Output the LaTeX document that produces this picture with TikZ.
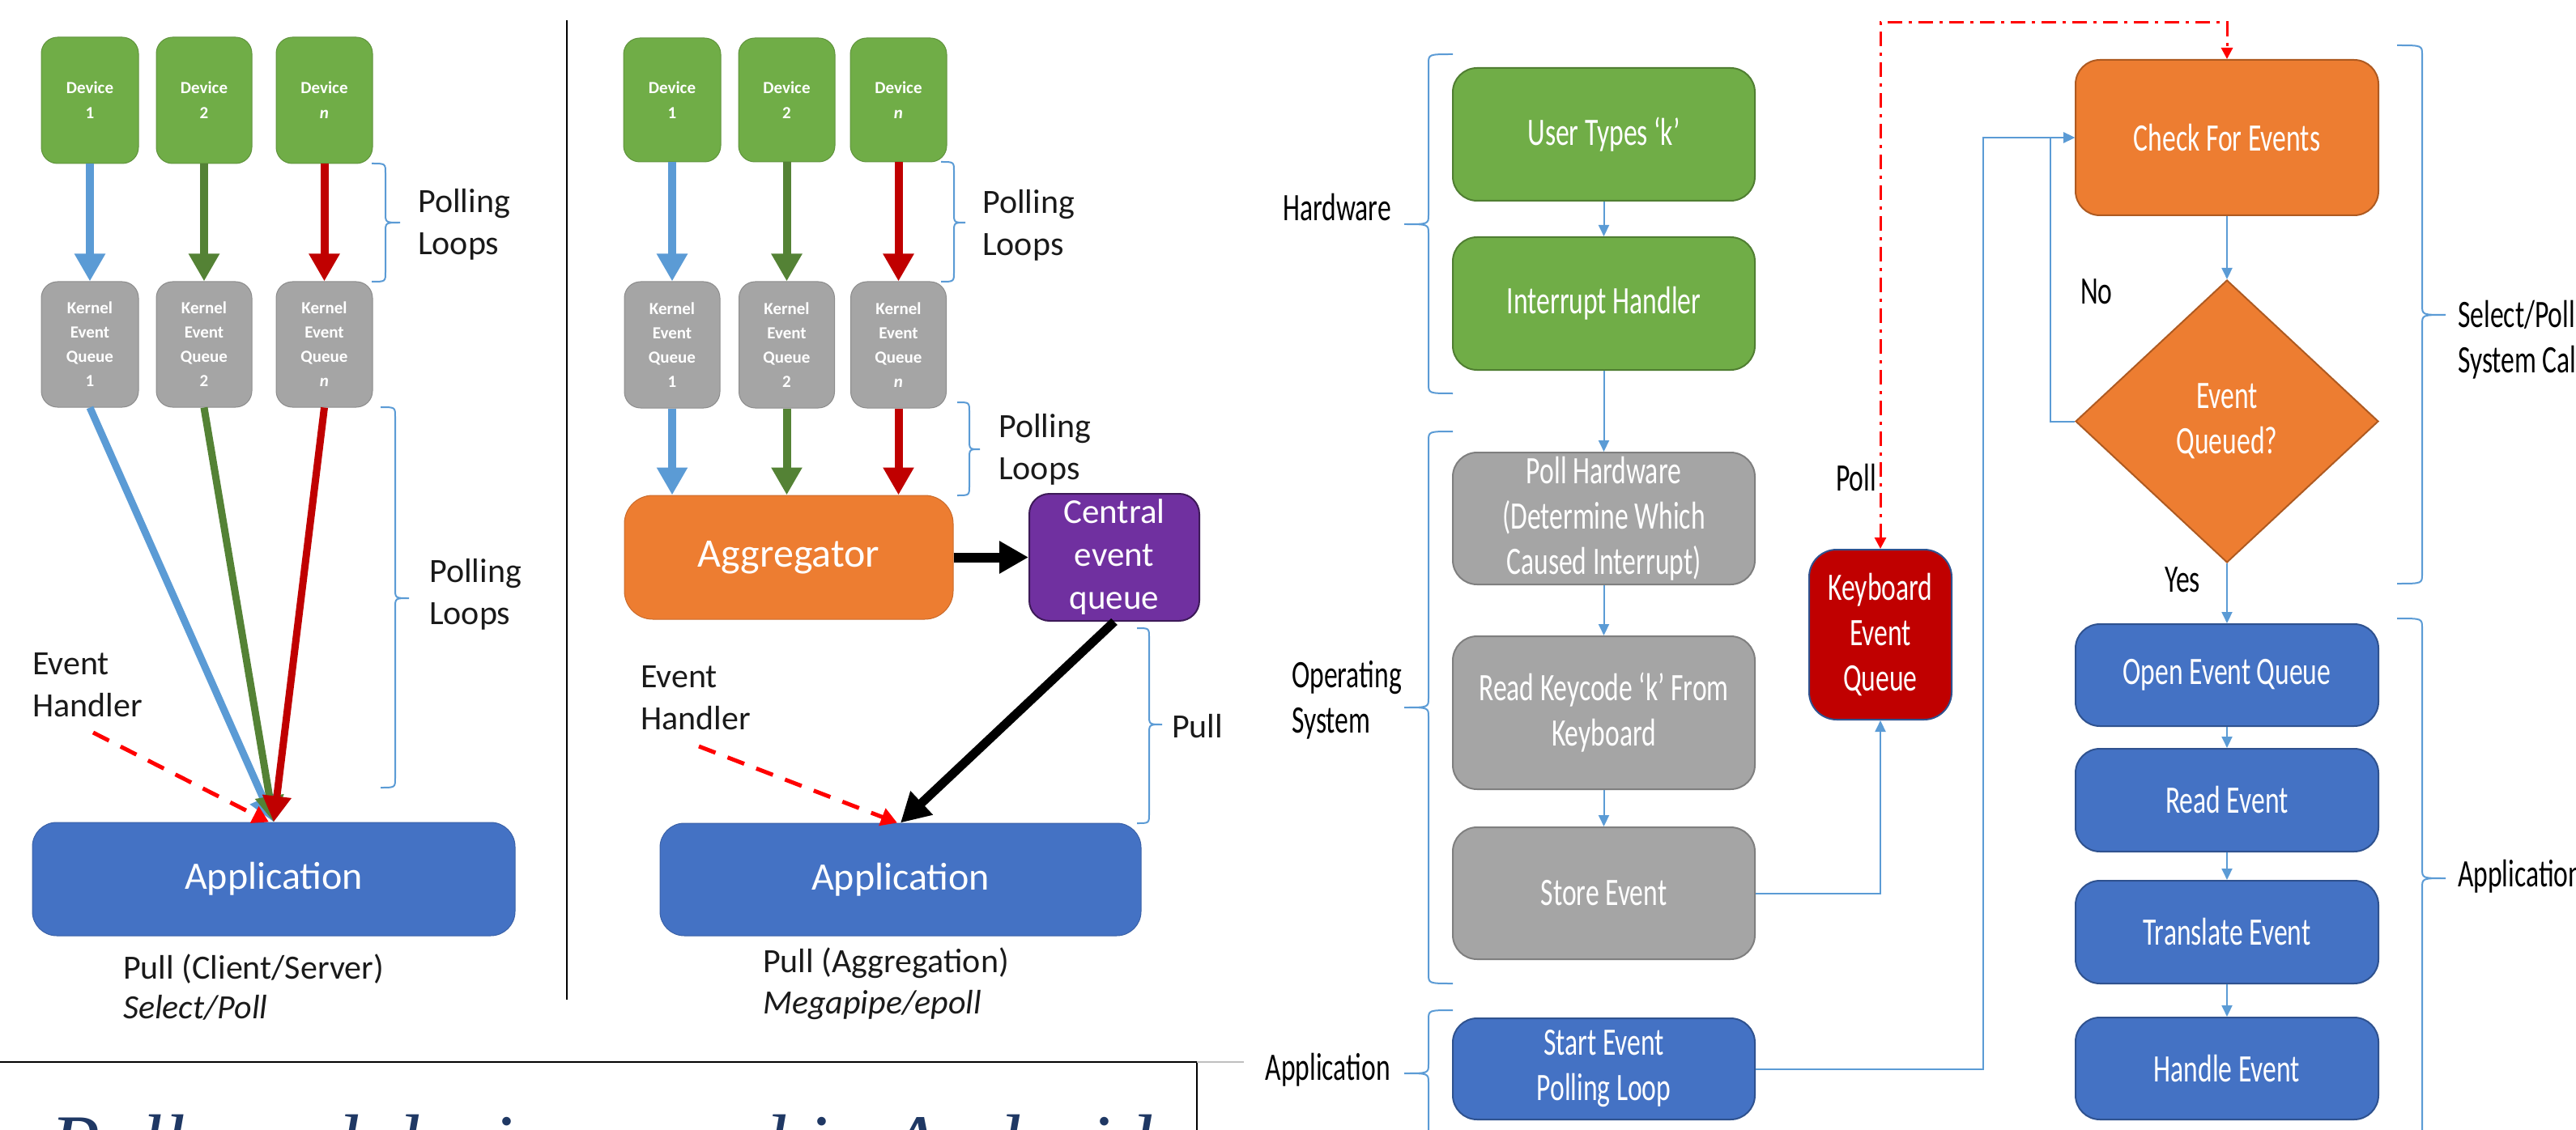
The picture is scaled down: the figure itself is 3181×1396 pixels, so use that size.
\documentclass[tikz,border=0pt]{standalone}
\usepackage{fontspec}
\setmainfont{Carlito}
\newfontfamily\condf[FakeStretch=0.7]{Carlito}
\newfontfamily\titlef{Liberation Serif}
\usetikzlibrary{arrows.meta,shapes.geometric,calc}
\definecolor{cgreen}{HTML}{70AD47}
\definecolor{cgreenb}{HTML}{507E32}
\definecolor{cgray}{HTML}{A5A5A5}
\definecolor{cgrayb}{HTML}{7F7F7F}
\definecolor{cblue}{HTML}{4472C4}
\definecolor{cblueb}{HTML}{2F528F}
\definecolor{corange}{HTML}{ED7D31}
\definecolor{corangeb}{HTML}{AE5A21}
\definecolor{cred}{HTML}{C00000}
\definecolor{cpurple}{HTML}{7030A0}
\definecolor{cpurpleb}{HTML}{3D1A58}
\definecolor{lblue}{HTML}{5B9BD5}
\definecolor{agreen}{HTML}{548235}
\definecolor{txt}{HTML}{1A1A1A}
\definecolor{ttl}{HTML}{1F3864}
\newcommand\mybrace[6]{\draw[brc] (#1,#4) .. controls (#2,#4) .. (#2,#4+12) -- (#2,#5-12) .. controls (#2,#5) .. (#3,#5) .. controls (#2,#5) .. (#2,#5+12) -- (#2,#6-12) .. controls (#2,#6) .. (#1,#6);}
\begin{document}
\begin{tikzpicture}[x=1pt,y=-1pt,
  dev/.style={fill=cgreen, draw=cgreen!85!black, line width=1pt, rounded corners=20pt, text=white, inner sep=0pt, align=center, font=\fontsize{21}{31}\selectfont\bfseries},
  ker/.style={fill=cgray, draw=cgray!85!black, line width=1pt, rounded corners=20pt, text=white, inner sep=0pt, align=center, font=\fontsize{21}{30}\selectfont\bfseries},
  lbl/.style={text=txt, align=left, inner sep=0pt, font=\fontsize{42}{52}\selectfont},
  rbox/.style={rounded corners=30pt, line width=2pt, text=white, inner sep=0pt, align=center, font=\condf\fontsize{48}{56}\selectfont},
  rlbl/.style={text=black, inner sep=0pt, align=left, font=\condf\fontsize{48}{56}\selectfont},
  bigarr/.style={line width=10pt, -{Triangle[width=36pt,length=34pt]}},
  diag/.style={line width=9pt, -{Triangle[width=34pt,length=32pt]}},
  blkarr/.style={line width=12pt, -{Triangle[width=38pt,length=36pt]}},
  reddash/.style={draw=red, line width=5pt, dash pattern=on 22pt off 16pt, -{Triangle[width=22pt,length=20pt]}},
  flow/.style={draw=lblue, line width=2pt, -{Triangle[width=13pt,length=14pt]}},
  reddd/.style={draw=red, line width=3pt, dash pattern=on 18pt off 8pt on 4pt off 8pt, {Triangle[width=14pt,length=14pt]}-{Triangle[width=14pt,length=14pt]}},
  brc/.style={draw=lblue, line width=2pt}
]
\useasboundingbox (0,0) rectangle (3181,1396);

% ---------------- left panel ----------------
\node[dev, minimum width=120pt, minimum height=156pt] (ld1) at (111,124) {Device\\1};
\node[dev, minimum width=118pt, minimum height=156pt] (ld2) at (252,124) {Device\\2};
\node[dev, minimum width=119pt, minimum height=156pt] (ldn) at (400.5,124) {Device\\\textit{n}};
\node[ker, minimum width=120pt, minimum height=155pt] (lk1) at (111,425.5) {Kernel\\Event\\Queue\\1};
\node[ker, minimum width=118pt, minimum height=155pt] (lk2) at (252,425.5) {Kernel\\Event\\Queue\\2};
\node[ker, minimum width=119pt, minimum height=155pt] (lkn) at (400.5,425.5) {Kernel\\Event\\Queue\\\textit{n}};
\draw[bigarr, draw=lblue] (ld1.south) -- (lk1.north);
\draw[bigarr, draw=agreen] (ld2.south) -- (lk2.north);
\draw[bigarr, draw=cred] (ldn.south) -- (lkn.north);
\mybrace{459}{476}{494}{202}{275}{348}
\node[lbl, anchor=west] (lpl1) at (516,277) {Polling\\Loops};
\mybrace{470}{488}{505}{503}{739}{973}
\node[lbl, anchor=west] (lpl2) at (530,734) {Polling\\Loops};
\node[rounded corners=30pt, fill=cblue, draw=cblue!85!black, line width=1pt, minimum width=596pt, minimum height=140pt, text=white, font=\fontsize{48}{56}\selectfont] (app1) at (338,1086) {Application};
\draw[diag, draw=lblue] (lk1.south) -- (app1.north);
\draw[diag, draw=agreen] (lk2.south) -- (app1.north);
\draw[diag, draw=cred] (lkn.south) -- (app1.north);
\node[lbl, anchor=west] (leh) at (40,846) {Event\\Handler};
\coordinate (leh0) at (115,905);
\draw[reddash] (leh0) -- ($(app1.north)+(-6,0)$);
\node[lbl, anchor=west] (lpull) at (152,1197) {Pull (Client/Server)};
\node[lbl, anchor=west] (lsel) at (152,1245) {\itshape Select/Poll};

\draw[line width=2.5pt] (700,25) -- (700,1235);

% ---------------- middle panel ----------------
\node[dev, minimum width=120pt, minimum height=153pt] (md1) at (830,123.5) {Device\\1};
\node[dev, minimum width=119pt, minimum height=153pt] (md2) at (971.5,123.5) {Device\\2};
\node[dev, minimum width=119pt, minimum height=153pt] (mdn) at (1109.5,123.5) {Device\\\textit{n}};
\node[ker, minimum width=118pt, minimum height=156pt] (mk1) at (830,426) {Kernel\\Event\\Queue\\1};
\node[ker, minimum width=118pt, minimum height=156pt] (mk2) at (971.5,426) {Kernel\\Event\\Queue\\2};
\node[ker, minimum width=118pt, minimum height=156pt] (mkn) at (1109.5,426) {Kernel\\Event\\Queue\\\textit{n}};
\draw[bigarr, draw=lblue] (md1.south) -- (mk1.north);
\draw[bigarr, draw=agreen] (md2.south) -- (mk2.north);
\draw[bigarr, draw=cred] (mdn.south) -- (mkn.north);
\node[rounded corners=35pt, fill=corange, draw=corange!85!black, line width=1pt, minimum width=406pt, minimum height=153pt, text=white, font=\fontsize{50}{58}\selectfont] (agg) at (974,688.5) {Aggregator};
\draw[bigarr, draw=lblue] (mk1.south) -- (mk1.south |- agg.north);
\draw[bigarr, draw=agreen] (mk2.south) -- (mk2.south |- agg.north);
\draw[bigarr, draw=cred] (mkn.south) -- (mkn.south |- agg.north);
\mybrace{1162}{1178}{1192}{200}{275}{348}
\node[lbl, anchor=west] (mpl1) at (1213,278) {Polling\\Loops};
\mybrace{1182}{1197}{1210}{497}{555}{612}
\node[lbl, anchor=west] (mpl2) at (1233,555) {Polling\\Loops};
\node[rounded corners=25pt, fill=cpurple, draw=cpurpleb, line width=2pt, minimum width=210pt, minimum height=157pt, text=white, align=center, inner sep=0pt, font=\fontsize{43}{53}\selectfont] (ceq) at (1376,688.5) {Central\\event\\queue};
\draw[blkarr] (agg.east) -- (ceq.west);
\node[rounded corners=30pt, fill=cblue, draw=cblue!85!black, line width=1pt, minimum width=594pt, minimum height=139pt, text=white, font=\fontsize{48}{56}\selectfont] (app2) at (1112,1086.5) {Application};
\draw[blkarr, line width=11pt] (ceq.south) -- (app2.north);
\mybrace{1404}{1419}{1435}{776}{895}{1017}
\node[lbl, anchor=west] (mpull) at (1447,897) {Pull};
\node[lbl, anchor=west] (meh) at (791,862) {Event\\Handler};
\coordinate (meh0) at (863,922);
\draw[reddash] (meh0) -- ($(app2.north)+(-4,0)$);
\node[lbl, anchor=west] (mpa) at (942,1190) {Pull (Aggregation)};
\node[lbl, anchor=west] (mmp) at (942,1242) {\itshape Megapipe/epoll};

% bottom text box
\draw[line width=2.5pt] (0,1312) -- (1478,1312) -- (1478,1396);
\draw[line width=2pt, black!25] (1478,1312) -- (1536,1312);
\node[anchor=base west, inner sep=0pt, text=ttl, font=\titlef\itshape\fontsize{100}{110}\selectfont] (ttl) at (62,1446) {Polls and devices used in Android};

% ---------------- right panel ----------------
\node[rbox, fill=cgreen, draw=cgreenb, minimum width=373pt, minimum height=164pt] (ut) at (1980.5,166) {User Types ‘k’};
\node[rbox, fill=cgreen, draw=cgreenb, minimum width=373pt, minimum height=164pt] (ih) at (1980.5,375) {Interrupt Handler};
\node[rbox, fill=cgray, draw=cgrayb, minimum width=373pt, minimum height=163pt] (ph) at (1980.5,640.5) {Poll Hardware\\(Determine Which\\Caused Interrupt)};
\node[rbox, fill=cgray, draw=cgrayb, minimum width=373pt, minimum height=189pt] (rk) at (1980.5,880.5) {Read Keycode ‘k’ From\\Keyboard};
\node[rbox, fill=cgray, draw=cgrayb, minimum width=373pt, minimum height=163pt] (se) at (1980.5,1103.5) {Store Event};
\node[rbox, fill=cblue, draw=cblueb, minimum width=373pt, minimum height=125pt] (sepl) at (1980.5,1320.5) {Start Event\\Polling Loop};
\node[rbox, fill=cred, draw=cblueb, rounded corners=34pt, minimum width=176pt, minimum height=210pt] (keq) at (2322,784) {Keyboard\\Event\\Queue};
\node[rbox, fill=corange, draw=corangeb, minimum width=374pt, minimum height=192pt] (cfe) at (2750,170) {Check For Events};
\node[diamond, fill=corange, draw=corangeb, line width=2pt, minimum width=374pt, minimum height=349pt, aspect=1.07, inner sep=0pt, text=white, align=center, font=\condf\fontsize{48}{56}\selectfont] (dia) at (2750,520.5) {Event\\Queued?};
\node[rbox, fill=cblue, draw=cblueb, minimum width=374pt, minimum height=126pt] (oeq) at (2750,834) {Open Event Queue};
\node[rbox, fill=cblue, draw=cblueb, minimum width=374pt, minimum height=127pt] (re) at (2750,988.5) {Read Event};
\node[rbox, fill=cblue, draw=cblueb, minimum width=374pt, minimum height=127pt] (te) at (2750,1151.5) {Translate Event};
\node[rbox, fill=cblue, draw=cblueb, minimum width=374pt, minimum height=126pt] (he) at (2750,1320) {Handle Event};

\draw[flow] (ut.south) -- (ih.north);
\draw[flow] (ih.south) -- (ph.north);
\draw[flow] (ph.south) -- (rk.north);
\draw[flow] (rk.south) -- (se.north);
\draw[flow] (se.east) -| (keq.south);
\coordinate (lp) at (2449,170);
\draw[flow] (sepl.east) -| (lp) -- (cfe.west);
\coordinate (nl) at (2532,520.5);
\draw[flow] (dia.west) -- (nl) |- (cfe.west);
\draw[flow] (cfe.south) -- (dia.north);
\draw[flow] (dia.south) -- (oeq.north);
\draw[flow] (oeq.south) -- (re.north);
\draw[flow] (re.south) -- (te.north);
\draw[flow] (te.south) -- (he.north);
\coordinate (pa) at (2322,28);
\coordinate (pb) at (2750,28);
\draw[reddd] (keq.north) -- (pa) -- (pb) -- (cfe.north);

\mybrace{1794}{1764}{1734}{67}{277}{486}
\mybrace{1794}{1764}{1734}{533}{874}{1215}
\mybrace{1794}{1764}{1734}{1248}{1326}{1404}
\mybrace{2960}{2991}{3020}{56}{389}{721}
\mybrace{2960}{2991}{3020}{764}{1085}{1406}

\node[rlbl, anchor=east] (hw) at (1718,256) {Hardware};
\node[rlbl, anchor=west] (os) at (1595,865) {Operating\\System};
\node[rlbl, anchor=east] (ap1) at (1717,1322) {Application};
\node[rlbl, anchor=east] (poll) at (2317,590) {Poll};
\node[rlbl, anchor=west] (no) at (2569,360) {No};
\node[rlbl, anchor=west] (yes) at (2673,716) {Yes};
\node[rlbl, anchor=west] (spc) at (3035,420) {Select/Poll\\System Call};
\node[rlbl, anchor=west] (ap2) at (3035,1083) {Application};
\end{tikzpicture}
\end{document}
